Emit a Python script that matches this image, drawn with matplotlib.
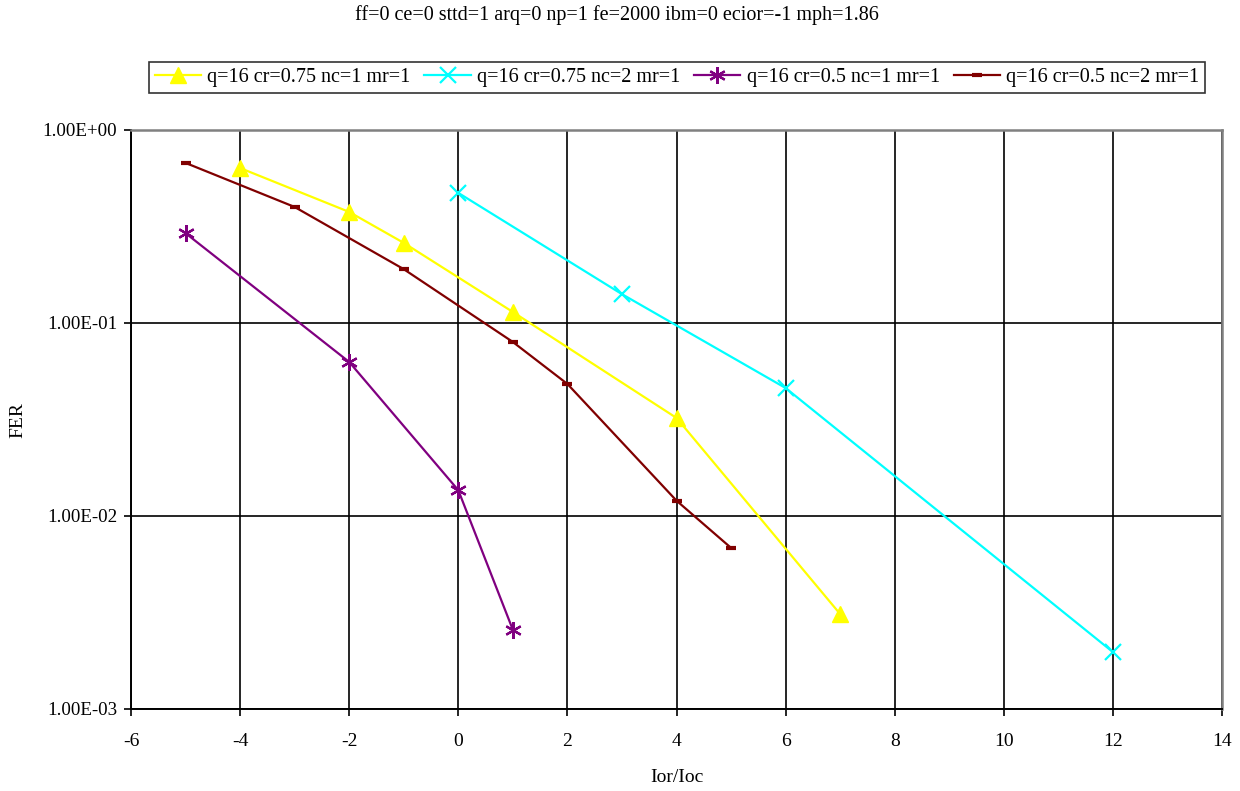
import matplotlib
matplotlib.use('Agg')
import matplotlib.pyplot as plt
from matplotlib.ticker import FixedLocator, NullLocator

plt.rcParams['font.family'] = 'Liberation Serif'
plt.rcParams['axes.unicode_minus'] = False

# Data
x_a = [-4, -2, -1, 1, 4, 7]
fer_a = [0.635, 0.376, 0.26, 0.114, 0.0322, 0.0031]

x_b = [0, 3, 6, 12]
fer_b = [0.472, 0.141, 0.046, 0.00197]

x_c = [-5, -2, 0, 1]
fer_c = [0.292, 0.0628, 0.0136, 0.00257]

x_d = [-5, -3, -1, 1, 2, 4, 5]
fer_d = [0.675, 0.399, 0.190, 0.0797, 0.0483, 0.0120, 0.00683]

labels = ['q=16 cr=0.75 nc=1 mr=1', 'q=16 cr=0.75 nc=2 mr=1',
          'q=16 cr=0.5 nc=1 mr=1', 'q=16 cr=0.5 nc=2 mr=1']
title = 'ff=0 ce=0 sttd=1 arq=0 np=1 fe=2000 ibm=0 ecior=-1 mph=1.86'

xticks = list(range(-6, 15, 2))
yticks = [1e-3, 1e-2, 1e-1, 1]
ytick_labels = ['1.00E-03', '1.00E-02', '1.00E-01', '1.00E+00']

fig = plt.figure(figsize=(12.4, 7.91), dpi=100)
ax = fig.add_axes([0.1056, 0.1037, 0.88, 0.732])

ax.plot(x_a, fer_a, color='#FFFF00', lw=1.6, marker='^', ms=12, label=labels[0])
ax.plot(x_b, fer_b, color='#00FFFF', lw=1.6, marker='x', ms=11, mew=1.6, label=labels[1])
ax.plot(x_c, fer_c, color='#800080', lw=1.6, marker=(6, 2, 0), ms=12, mew=1.6, label=labels[2])
ax.plot(x_d, fer_d, color='#800000', lw=1.6, marker='_', ms=7, mew=3, label=labels[3])

ax.set_yscale('log')
ax.set_xlim(-6, 14)
ax.set_ylim(1e-3, 1)
ax.xaxis.set_major_locator(FixedLocator(xticks))
ax.yaxis.set_major_locator(FixedLocator(yticks))
ax.yaxis.set_minor_locator(NullLocator())
ax.set_yticklabels(ytick_labels)
ax.grid(True, color='black', lw=1.2)
ax.tick_params(direction='out', length=5, width=1.2, labelsize=14, colors='black')
ax.tick_params(axis='x', pad=12)
ax.tick_params(axis='y', pad=5, labelsize=13.6)

for s in ['top', 'right']:
    ax.spines[s].set_color('#808080')
    ax.spines[s].set_linewidth(1.8)
for s in ['bottom', 'left']:
    ax.spines[s].set_color('black')
    ax.spines[s].set_linewidth(1.4)

fig.text(677 / 1240, 1 - 777 / 791, 'Ior/Ioc', ha='center', va='center', fontsize=14)
fig.text(18 / 1240, 1 - 420 / 791, 'FER', ha='center', va='center', rotation=90, fontsize=14)
fig.text(617 / 1240, 1 - 15 / 791, title, ha='center', va='center', fontsize=14.5)

leg = fig.legend(loc='center', bbox_to_anchor=(677 / 1240, 1 - 77.5 / 791), ncol=4, fontsize=14.5,
                 frameon=True, fancybox=False, edgecolor='black', handlelength=2.3,
                 columnspacing=0.7, handletextpad=0.3, borderpad=0.3)
leg.get_frame().set_linewidth(1.2)

fig.savefig('out.png', dpi=100)
